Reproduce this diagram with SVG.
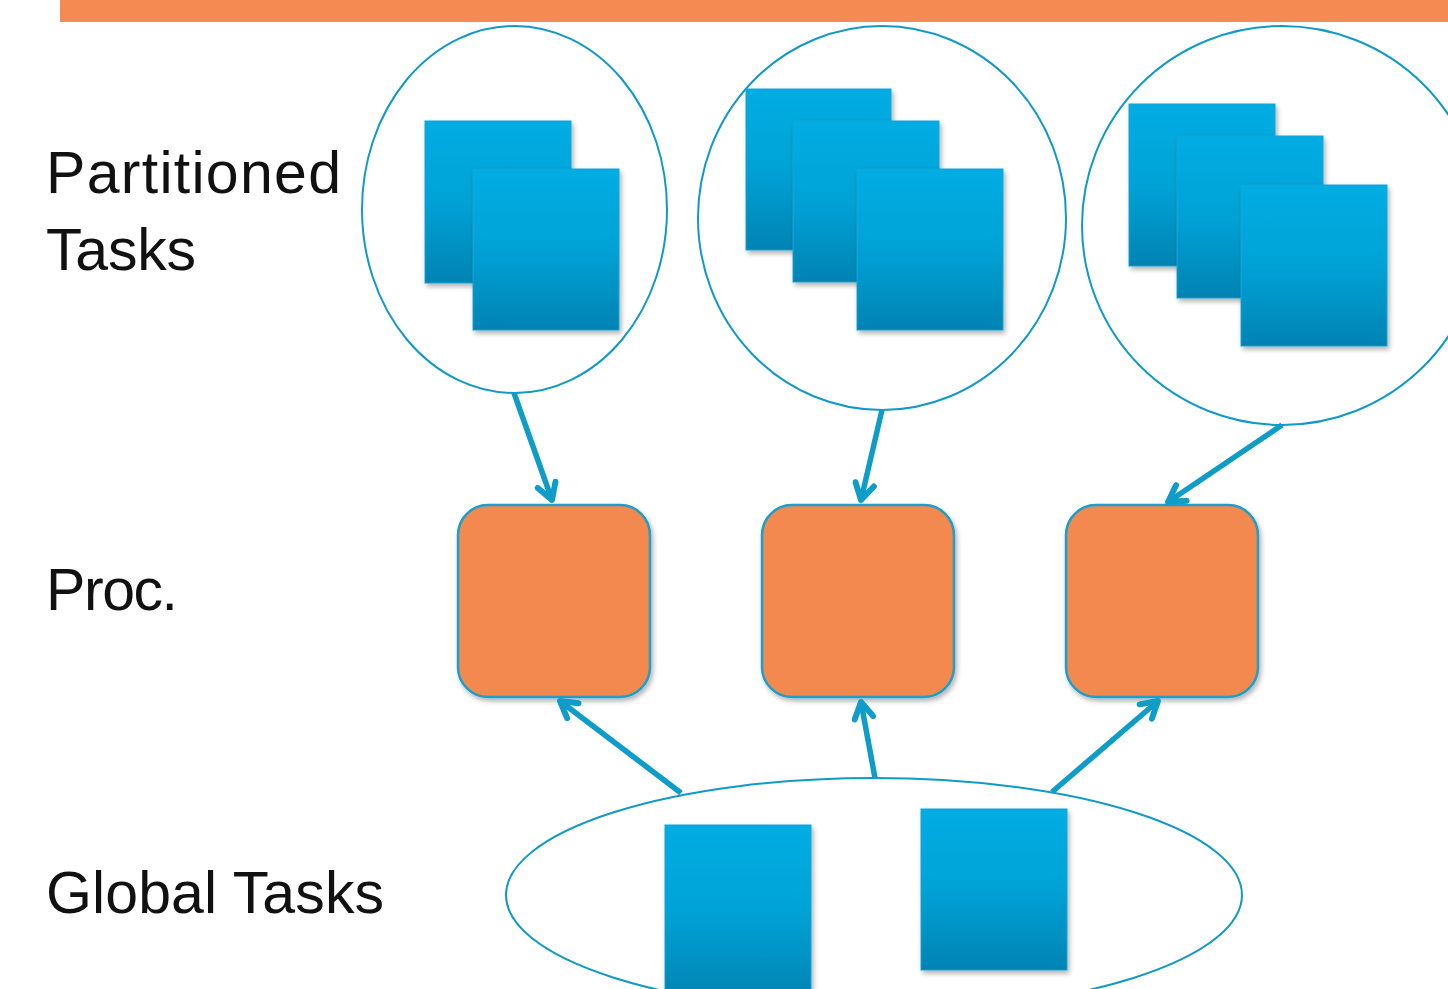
<svg xmlns="http://www.w3.org/2000/svg" width="1448" height="989" viewBox="0 0 1448 989">
<style>
.lbl{font-family:"Liberation Sans",Arial,sans-serif;font-size:59px;fill:#111}
.grp{fill:none;stroke:#1199C9;stroke-width:2}
.task{fill:url(#tg);stroke:#1BA3D3;stroke-width:1;filter:url(#sh)}
.proc{fill:#F4894F;stroke:#1A9FC9;stroke-width:2.5;filter:url(#sh)}
.conn{stroke:#0E9CC9;stroke-width:5.5;fill:none;marker-end:url(#ah)}
</style>
<defs>
<linearGradient id="tg" x1="0" y1="0" x2="0" y2="1">
<stop offset="0" stop-color="#00ADE3"/>
<stop offset="0.5" stop-color="#00A2D6"/>
<stop offset="1" stop-color="#0083B3"/>
</linearGradient>
<filter id="sh" x="-10%" y="-10%" width="130%" height="130%">
<feDropShadow dx="2" dy="3" stdDeviation="2.5" flood-color="#000" flood-opacity="0.3"/>
</filter>
<marker id="ah" viewBox="0 0 10 10" refX="8.5" refY="5" markerWidth="4.5" markerHeight="4.5" orient="auto" markerUnits="strokeWidth">
<path d="M2,1.2 L8.5,5 L2,8.8" fill="none" stroke="#0E9CC9" stroke-width="2.4" stroke-linecap="round" stroke-linejoin="round"/>
</marker>
</defs>
<rect width="1448" height="989" fill="#fff"/>
<rect x="60" y="0" width="1388" height="22" fill="#F68A53"/>
<g id="labels">
<text class="lbl" x="46" y="193" textLength="295">Partitioned</text>
<text class="lbl" x="46" y="270" textLength="150">Tasks</text>
<text class="lbl" x="46" y="610" textLength="132">Proc.</text>
<text class="lbl" x="46" y="913" textLength="338">Global Tasks</text>
</g>
<g id="part1">
<ellipse class="grp" cx="514.5" cy="209.5" rx="152.5" ry="183.5"/>
<rect class="task" x="425" y="121" width="146" height="162"/>
<rect class="task" x="473" y="169" width="146" height="161"/>
</g>
<g id="part2">
<ellipse class="grp" cx="882" cy="218" rx="184" ry="192"/>
<rect class="task" x="746" y="89" width="145" height="161"/>
<rect class="task" x="793" y="121" width="146" height="161"/>
<rect class="task" x="857" y="169" width="146" height="161"/>
</g>
<g id="part3">
<ellipse class="grp" cx="1282" cy="225.5" rx="200" ry="199.5"/>
<rect class="task" x="1129" y="104" width="146" height="162"/>
<rect class="task" x="1177" y="136" width="146" height="162"/>
<rect class="task" x="1241" y="185" width="146" height="161"/>
</g>
<g id="proc1"><rect class="proc" x="458" y="505" width="192" height="192" rx="30"/></g>
<g id="proc2"><rect class="proc" x="762" y="505" width="192" height="192" rx="30"/></g>
<g id="proc3"><rect class="proc" x="1066" y="505" width="192" height="192" rx="30"/></g>
<g id="global">
<ellipse class="grp" cx="874" cy="895" rx="368" ry="117"/>
<rect class="task" x="665" y="825" width="146" height="175"/>
<rect class="task" x="921" y="809" width="146" height="161"/>
</g>
<g id="connectors">
<line class="conn" x1="514" y1="393" x2="552" y2="500"/>
<line class="conn" x1="882" y1="410" x2="861" y2="500"/>
<line class="conn" x1="1282" y1="425" x2="1168" y2="502"/>
<line class="conn" x1="681" y1="793" x2="560" y2="701"/>
<line class="conn" x1="875" y1="778" x2="861" y2="702"/>
<line class="conn" x1="1052" y1="792" x2="1158" y2="701"/>
</g>
</svg>
